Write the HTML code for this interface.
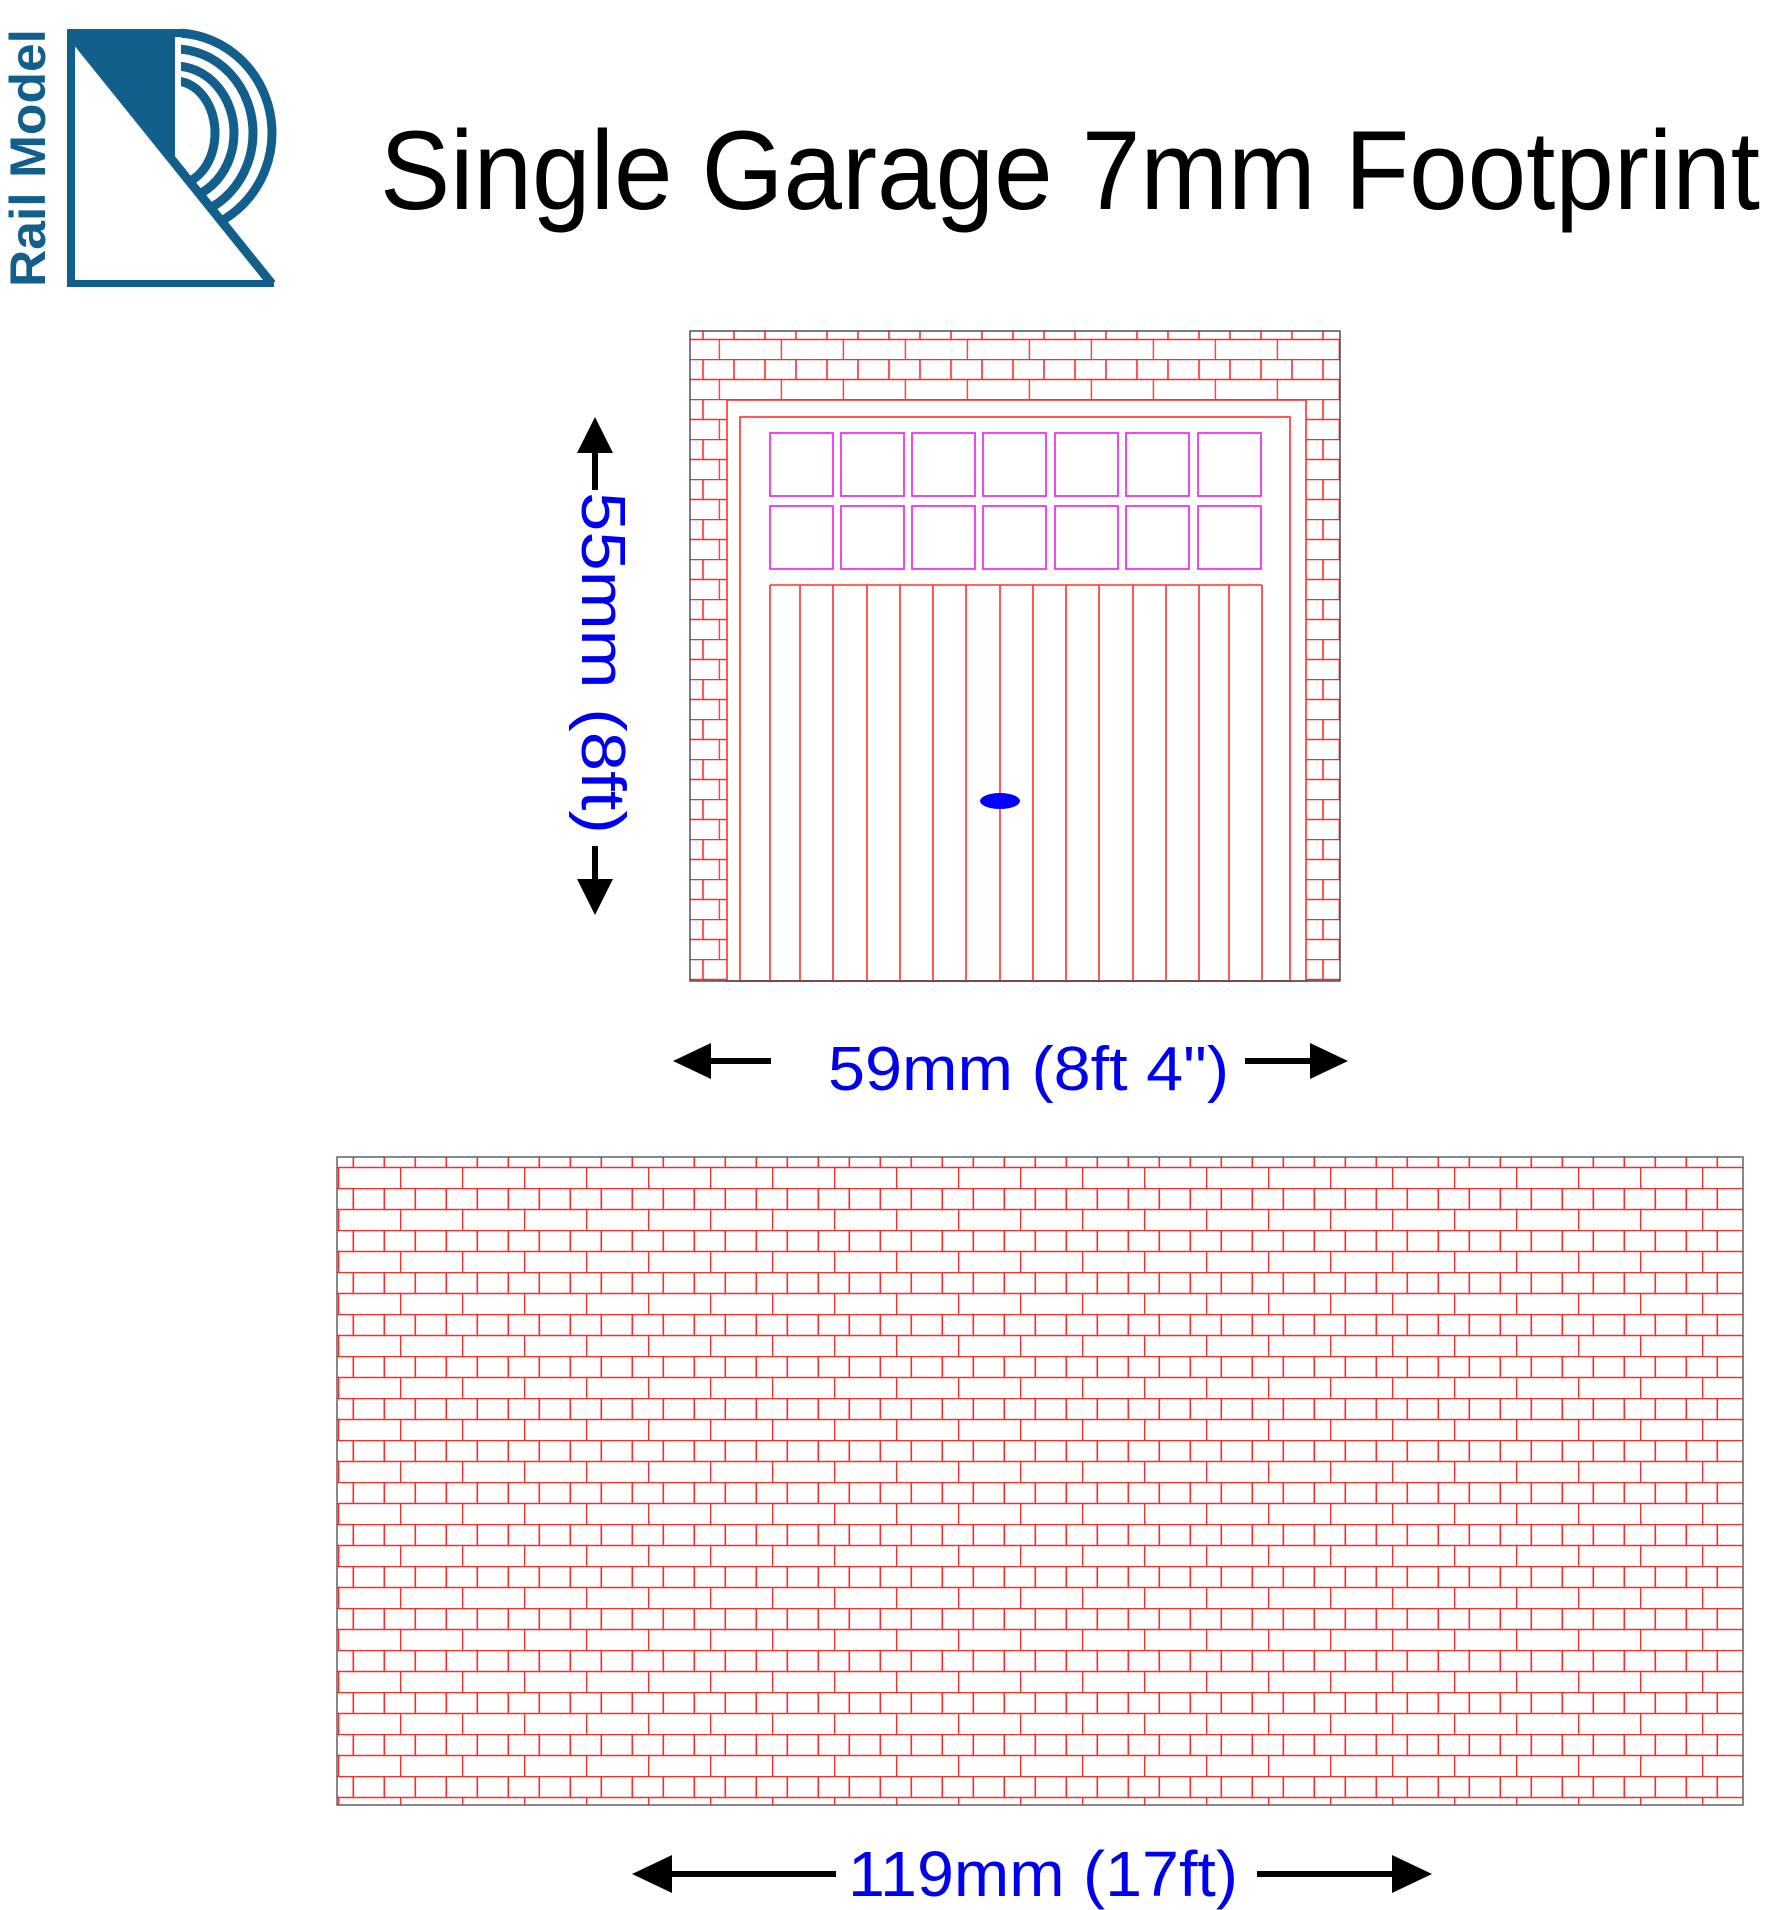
<!DOCTYPE html>
<html><head><meta charset="utf-8"><style>html,body{margin:0;padding:0;background:#fff}svg{display:block}</style></head>
<body>
<svg width="1765" height="1910" viewBox="0 0 1765 1910" xmlns="http://www.w3.org/2000/svg">
<defs>
<pattern id="bw" patternUnits="userSpaceOnUse" x="400" y="1146" width="62" height="42">
<g stroke="#ff2a2a" stroke-width="1.6" fill="none">
<line x1="0" y1="0.5" x2="62" y2="0.5"/><line x1="0" y1="21.5" x2="62" y2="21.5"/>
<line x1="15.3" y1="0" x2="15.3" y2="21"/><line x1="46.3" y1="0" x2="46.3" y2="21"/>
<line x1="0.5" y1="21" x2="0.5" y2="42"/>
</g></pattern>
<pattern id="bg" patternUnits="userSpaceOnUse" x="718.7" y="319" width="62" height="40">
<g stroke="#ff2a2a" stroke-width="1.6" fill="none">
<line x1="0" y1="0.5" x2="62" y2="0.5"/><line x1="0" y1="20.5" x2="62" y2="20.5"/>
<line x1="15.3" y1="0" x2="15.3" y2="20"/><line x1="46.3" y1="0" x2="46.3" y2="20"/>
<line x1="0.5" y1="20" x2="0.5" y2="40"/>
</g></pattern>
<clipPath id="arcclip"><polygon points="181,0 300,0 300,287 278,287 181,172"/></clipPath>
</defs>

<!-- Logo -->
<g fill="#135f8c" stroke="none">
<text x="0" y="0" transform="translate(45,287) rotate(-90)" font-family="Liberation Sans, sans-serif" font-weight="bold" font-size="50" textLength="258" lengthAdjust="spacingAndGlyphs">Rail Model</text>
<polygon points="67,29 175,29 175,165"/>
<rect x="67" y="29" width="8" height="258"/>
<rect x="67" y="280" width="207" height="7"/>
</g>
<line x1="70" y1="33" x2="272" y2="284" stroke="#135f8c" stroke-width="9"/>
<g clip-path="url(#arcclip)" fill="none" stroke="#135f8c" stroke-width="9">
<ellipse cx="175" cy="133" rx="97" ry="100"/>
<ellipse cx="175" cy="133" rx="78" ry="84"/>
<ellipse cx="175" cy="133" rx="59" ry="67"/>
<ellipse cx="175" cy="133" rx="40" ry="52"/>
</g>
<rect x="172" y="29" width="12" height="8" fill="#135f8c"/>

<!-- Title -->
<text x="380" y="209" font-family="Liberation Sans, sans-serif" font-size="112" fill="#000" textLength="1380" lengthAdjust="spacingAndGlyphs">Single Garage 7mm Footprint</text>

<!-- Garage -->
<rect x="690" y="331" width="650" height="650" fill="url(#bg)"/>
<rect x="727" y="400" width="579" height="581" fill="#fff" stroke="#ff3030" stroke-width="1.6"/>
<rect x="740" y="417" width="550" height="564" fill="none" stroke="#ff3030" stroke-width="1.6"/>
<g fill="none" stroke="#ee33ee" stroke-width="1.8">
<rect x="770" y="433" width="63" height="63"/><rect x="841" y="433" width="63" height="63"/><rect x="912" y="433" width="63" height="63"/><rect x="983" y="433" width="63" height="63"/><rect x="1055" y="433" width="63" height="63"/><rect x="1126" y="433" width="63" height="63"/><rect x="1198" y="433" width="63" height="63"/>
<rect x="770" y="506" width="63" height="63"/><rect x="841" y="506" width="63" height="63"/><rect x="912" y="506" width="63" height="63"/><rect x="983" y="506" width="63" height="63"/><rect x="1055" y="506" width="63" height="63"/><rect x="1126" y="506" width="63" height="63"/><rect x="1198" y="506" width="63" height="63"/>
</g>
<g stroke="#ff3030" stroke-width="1.6" fill="none">
<line x1="770" y1="585" x2="1262" y2="585"/>
<line x1="770" y1="585" x2="770" y2="981"/><line x1="800" y1="585" x2="800" y2="981"/><line x1="833" y1="585" x2="833" y2="981"/><line x1="867" y1="585" x2="867" y2="981"/><line x1="900" y1="585" x2="900" y2="981"/><line x1="933" y1="585" x2="933" y2="981"/><line x1="966" y1="585" x2="966" y2="981"/><line x1="1000" y1="585" x2="1000" y2="981"/><line x1="1033" y1="585" x2="1033" y2="981"/><line x1="1066" y1="585" x2="1066" y2="981"/><line x1="1099" y1="585" x2="1099" y2="981"/><line x1="1133" y1="585" x2="1133" y2="981"/><line x1="1166" y1="585" x2="1166" y2="981"/><line x1="1199" y1="585" x2="1199" y2="981"/><line x1="1229" y1="585" x2="1229" y2="981"/><line x1="1262" y1="585" x2="1262" y2="981"/>
</g>
<ellipse cx="1000" cy="801" rx="20" ry="8" fill="#0000ff"/>
<rect x="690" y="331" width="650" height="650" fill="none" stroke="#444" stroke-width="1.4"/>

<!-- vertical dimension -->
<g stroke="#000" stroke-width="6"><line x1="595" y1="450" x2="595" y2="490"/><line x1="595" y1="846" x2="595" y2="885"/></g>
<polygon points="595,417 577,453 613,453" fill="#000"/>
<polygon points="595,915 577,879 613,879" fill="#000"/>
<text x="0" y="0" transform="translate(582,492) rotate(90)" font-family="Liberation Sans, sans-serif" font-size="62" fill="#0000ee" textLength="342" lengthAdjust="spacingAndGlyphs">55mm (8ft)</text>

<!-- 59mm dimension -->
<g stroke="#000" stroke-width="6"><line x1="705" y1="1061" x2="771" y2="1061"/><line x1="1245" y1="1061" x2="1315" y2="1061"/></g>
<polygon points="673,1061 711,1043 711,1079" fill="#000"/>
<polygon points="1348,1061 1310,1043 1310,1079" fill="#000"/>
<text x="828" y="1090" font-family="Liberation Sans, sans-serif" font-size="62" fill="#0000ee" textLength="401" lengthAdjust="spacingAndGlyphs">59mm (8ft 4")</text>

<!-- Wall -->
<rect x="337" y="1157" width="1406" height="648" fill="url(#bw)"/>
<rect x="337" y="1157" width="1406" height="648" fill="none" stroke="#555" stroke-width="1.4"/>

<!-- 119mm dimension -->
<g stroke="#000" stroke-width="6"><line x1="665" y1="1874" x2="836" y2="1874"/><line x1="1257" y1="1874" x2="1400" y2="1874"/></g>
<polygon points="632,1874 672,1855 672,1893" fill="#000"/>
<polygon points="1432,1874 1392,1855 1392,1893" fill="#000"/>
<text x="848" y="1896" font-family="Liberation Sans, sans-serif" font-size="64" fill="#0000ee" textLength="390" lengthAdjust="spacingAndGlyphs">119mm (17ft)</text>
</svg>
</body></html>
